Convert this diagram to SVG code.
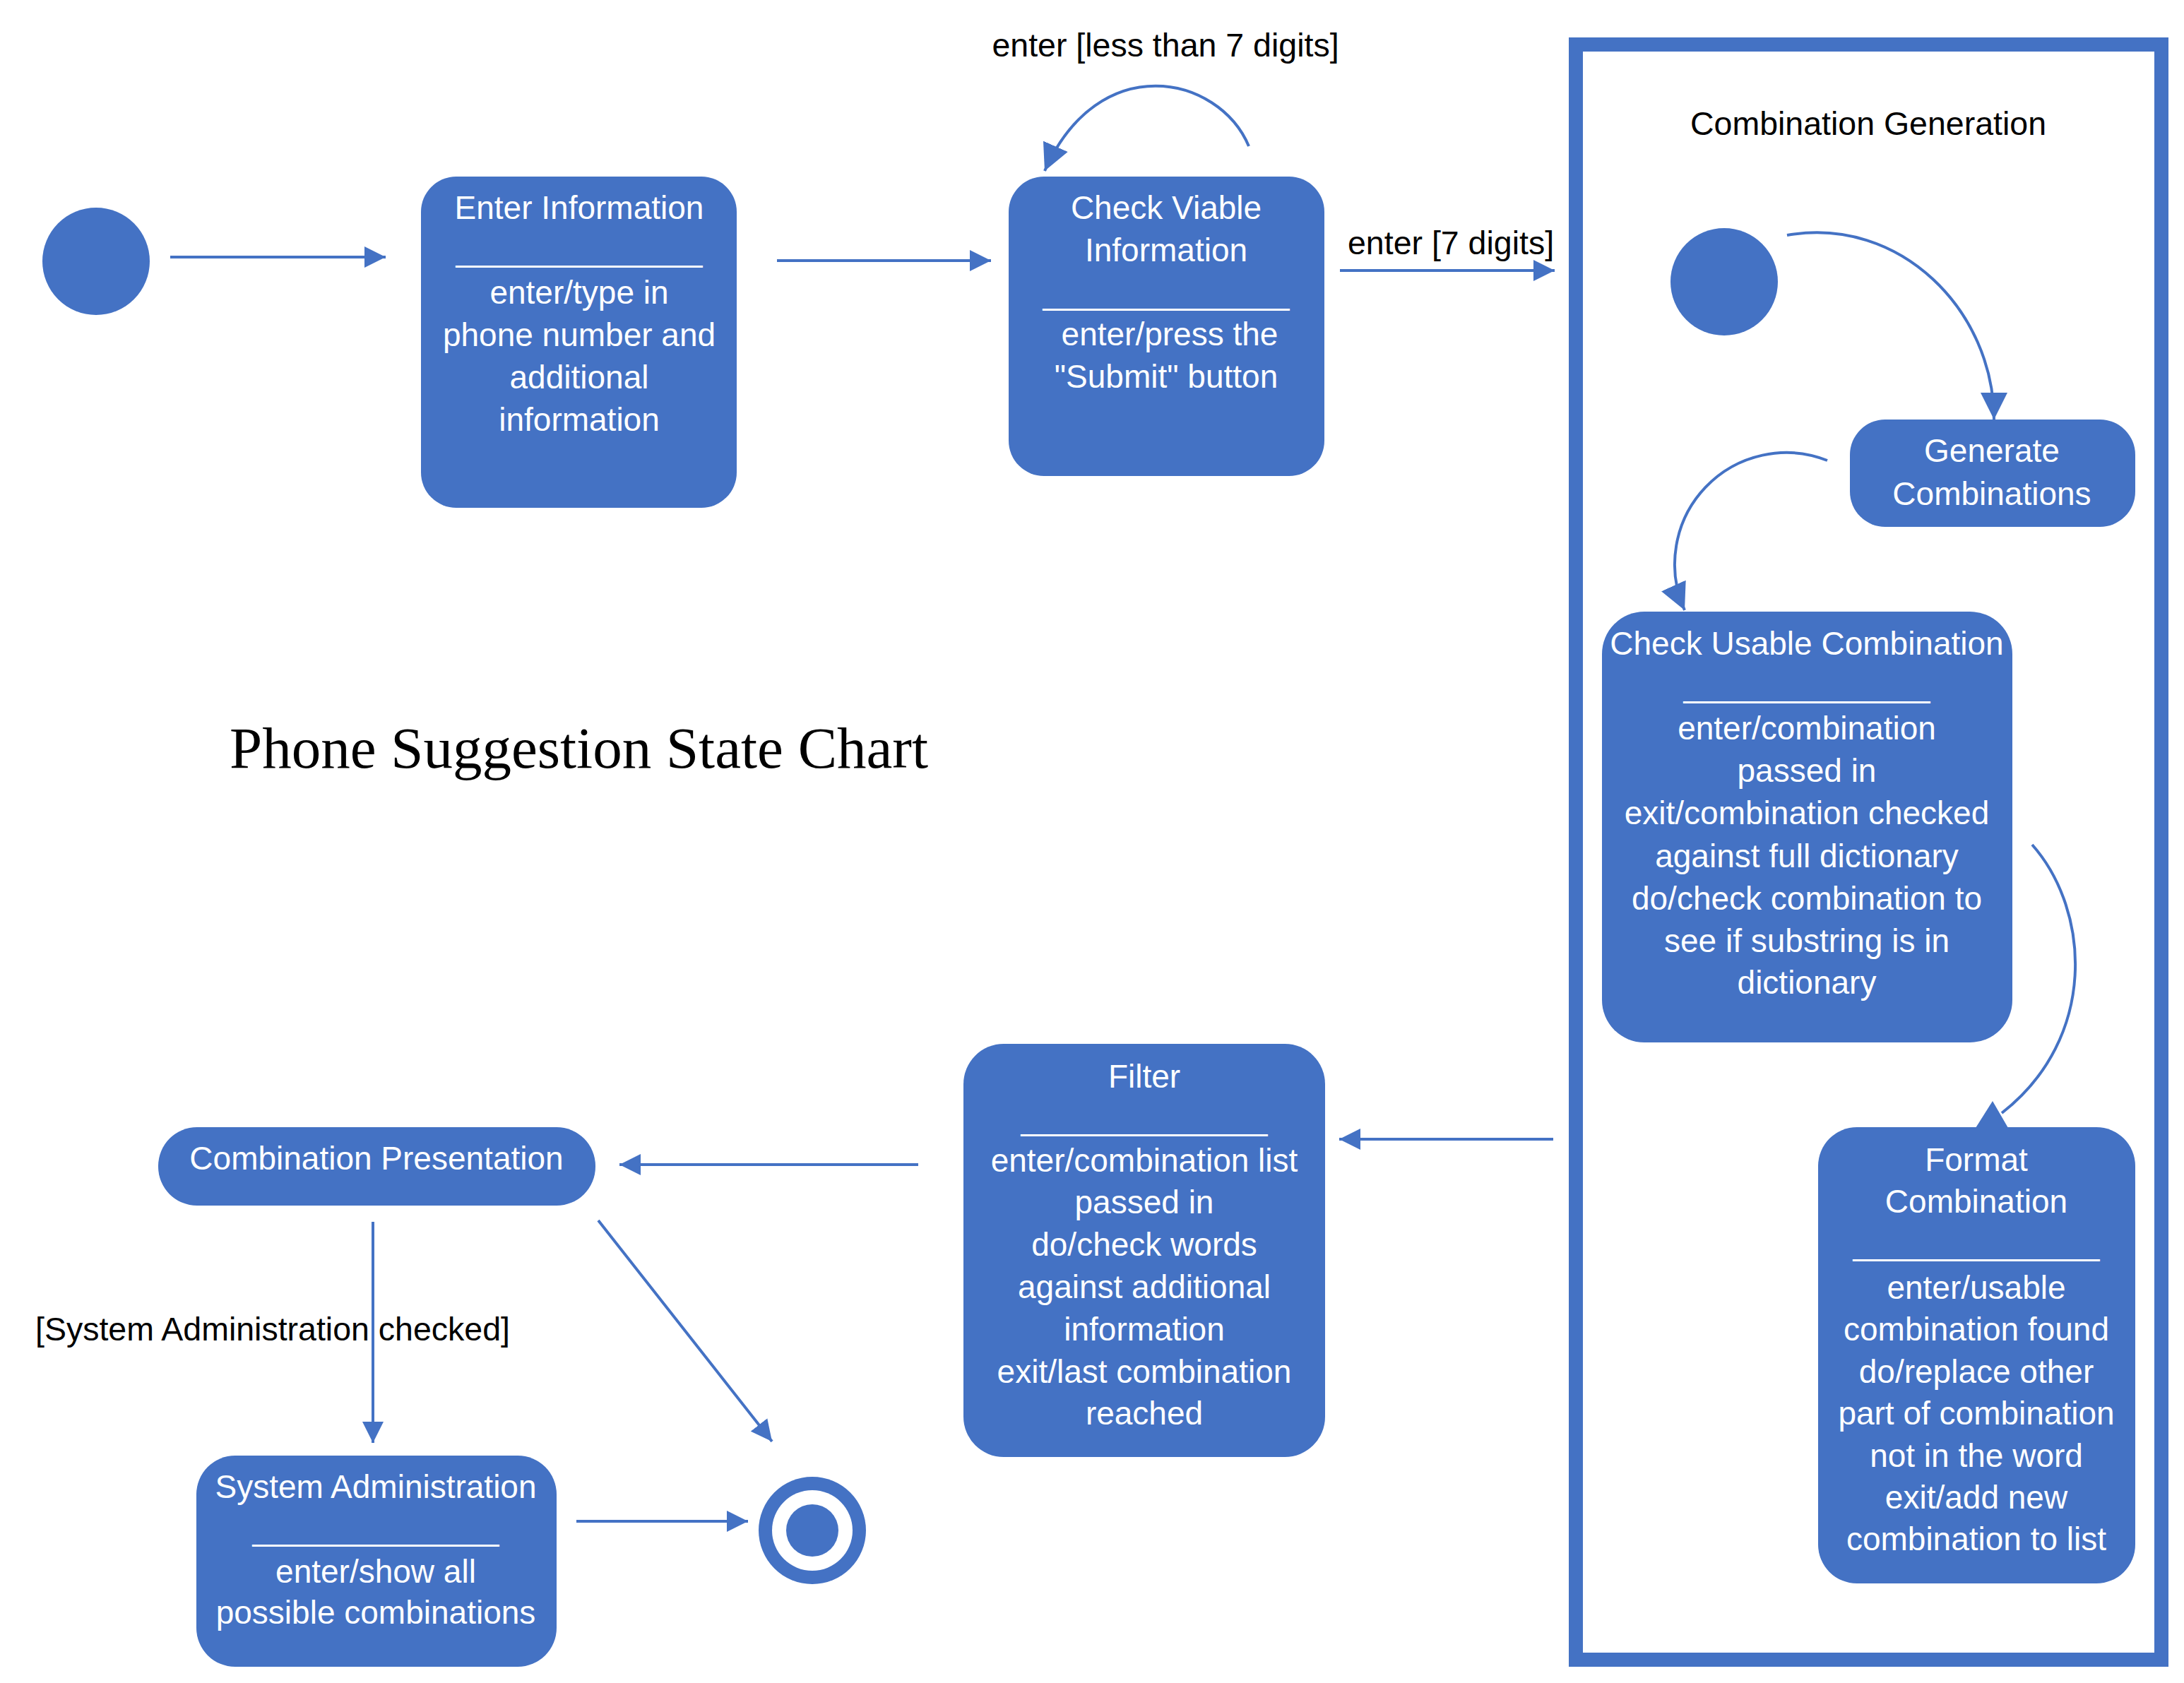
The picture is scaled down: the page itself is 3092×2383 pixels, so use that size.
<svg xmlns="http://www.w3.org/2000/svg" width="3092" height="2383" viewBox="0 0 3092 2383">
<style>
.node{fill:#4472C4}
.t{font-family:"Liberation Sans",Arial,sans-serif;font-size:46px;fill:#FFFFFF;text-anchor:middle}
.lbl{font-family:"Liberation Sans",Arial,sans-serif;font-size:46.5px;fill:#000000}
.c{fill:none;stroke:#4472C4;stroke-width:4}
.title{font-family:"Liberation Serif","Times New Roman",serif;font-size:83px;fill:#000000}
</style>
<defs>
<marker id="ah" viewBox="0 0 10 10" refX="10" refY="5" markerWidth="30" markerHeight="30" markerUnits="userSpaceOnUse" orient="auto"><path d="M0,0 L10,5 L0,10 z" fill="#4472C4"/></marker>
<marker id="ahL" viewBox="0 0 10 10" refX="10" refY="5" markerWidth="38" markerHeight="40" markerUnits="userSpaceOnUse" orient="auto"><path d="M0,0 L10,5 L0,10 z" fill="#4472C4"/></marker>
</defs>
<rect width="3092" height="2383" fill="#FFFFFF"/>

<text class="title" x="325" y="1087">Phone Suggestion State Chart</text>

<g id="frame-combination-generation">
<rect x="2231" y="63" width="829" height="2287" fill="none" stroke="#4472C4" stroke-width="20"/>
<text class="lbl" x="2645" y="191" text-anchor="middle">Combination Generation</text>
</g>

<g id="initial"><circle class="node" cx="136" cy="370" r="76"/></g>

<g id="enter-information">
<rect class="node" x="596" y="250" width="447" height="469" rx="50"/>
<text class="t" x="820" y="310">Enter Information</text>
<text class="t" x="820" y="370" textLength="349" lengthAdjust="spacingAndGlyphs">______________</text>
<text class="t" x="820" y="430">enter/type in</text>
<text class="t" x="820" y="490">phone number and</text>
<text class="t" x="820" y="550">additional</text>
<text class="t" x="820" y="610">information</text>
</g>

<g id="check-viable">
<rect class="node" x="1428" y="250" width="447" height="424" rx="50"/>
<text class="t" x="1651" y="310">Check Viable</text>
<text class="t" x="1651" y="370">Information</text>
<text class="t" x="1651" y="431" textLength="349" lengthAdjust="spacingAndGlyphs">______________</text>
<text class="t" x="1656" y="489">enter/press the</text>
<text class="t" x="1651" y="549">"Submit" button</text>
</g>

<g id="inner-initial"><circle class="node" cx="2441" cy="399" r="76"/></g>

<g id="generate-combinations">
<rect class="node" x="2619" y="594" width="404" height="152" rx="50"/>
<text class="t" x="2820" y="654">Generate</text>
<text class="t" x="2820" y="715">Combinations</text>
</g>

<g id="check-usable">
<rect class="node" x="2268" y="866" width="581" height="610" rx="60"/>
<text class="t" x="2558" y="927">Check Usable Combination</text>
<text class="t" x="2558" y="987" textLength="349" lengthAdjust="spacingAndGlyphs">______________</text>
<text class="t" x="2558" y="1047">enter/combination</text>
<text class="t" x="2558" y="1107">passed in</text>
<text class="t" x="2558" y="1167">exit/combination checked</text>
<text class="t" x="2558" y="1228">against full dictionary</text>
<text class="t" x="2558" y="1288">do/check combination to</text>
<text class="t" x="2558" y="1348">see if substring is in</text>
<text class="t" x="2558" y="1407">dictionary</text>
</g>

<g id="format-combination">
<rect class="node" x="2574" y="1596" width="449" height="646" rx="55"/>
<text class="t" x="2798" y="1658">Format</text>
<text class="t" x="2798" y="1717">Combination</text>
<text class="t" x="2798" y="1777" textLength="349" lengthAdjust="spacingAndGlyphs">______________</text>
<text class="t" x="2798" y="1839">enter/usable</text>
<text class="t" x="2798" y="1898">combination found</text>
<text class="t" x="2798" y="1958">do/replace other</text>
<text class="t" x="2798" y="2017">part of combination</text>
<text class="t" x="2798" y="2077">not in the word</text>
<text class="t" x="2798" y="2136">exit/add new</text>
<text class="t" x="2798" y="2195">combination to list</text>
</g>

<g id="filter">
<rect class="node" x="1364" y="1478" width="512" height="585" rx="57"/>
<text class="t" x="1620" y="1540">Filter</text>
<text class="t" x="1620" y="1600" textLength="349" lengthAdjust="spacingAndGlyphs">______________</text>
<text class="t" x="1620" y="1659">enter/combination list</text>
<text class="t" x="1620" y="1718">passed in</text>
<text class="t" x="1620" y="1778">do/check words</text>
<text class="t" x="1620" y="1838">against additional</text>
<text class="t" x="1620" y="1898">information</text>
<text class="t" x="1620" y="1958">exit/last combination</text>
<text class="t" x="1620" y="2017">reached</text>
</g>

<g id="combination-presentation">
<rect class="node" x="224" y="1596" width="619" height="111" rx="55"/>
<text class="t" x="533" y="1656">Combination Presentation</text>
</g>

<g id="system-administration">
<rect class="node" x="278" y="2061" width="510" height="299" rx="55"/>
<text class="t" x="532" y="2121">System Administration</text>
<text class="t" x="532" y="2181" textLength="349" lengthAdjust="spacingAndGlyphs">______________</text>
<text class="t" x="532" y="2241">enter/show all</text>
<text class="t" x="532" y="2299">possible combinations</text>
</g>

<g id="final">
<circle cx="1150" cy="2167" r="76" fill="#4472C4"/>
<circle cx="1150" cy="2167" r="57" fill="#FFFFFF"/>
<circle cx="1150" cy="2167" r="37" fill="#4472C4"/>
</g>

<g id="connectors">
<line class="c" x1="241" y1="364" x2="546" y2="364" marker-end="url(#ah)"/>
<line class="c" x1="1100" y1="369" x2="1403" y2="369" marker-end="url(#ah)"/>
<path class="c" d="M1768,207 C1725,105 1555,70 1479,242" marker-end="url(#ahL)"/>
<text class="lbl" x="1650" y="80" text-anchor="middle">enter [less than 7 digits]</text>
<line class="c" x1="1897" y1="383" x2="2201" y2="383" marker-end="url(#ah)"/>
<text class="lbl" x="1908" y="360">enter [7 digits]</text>
<path class="c" d="M2530,333 C2690,305 2823,440 2823,594" marker-end="url(#ahL)"/>
<path class="c" d="M2587,652 A158,158 0 0,0 2385,864" marker-end="url(#ahL)"/>
<path class="c" d="M2877,1196 C2960,1290 2970,1470 2834,1576"/>
<polygon points="2821,1559 2797,1597 2843,1597" fill="#4472C4"/>
<line class="c" x1="2199" y1="1613" x2="1896" y2="1613" marker-end="url(#ah)"/>
<line class="c" x1="1300" y1="1649" x2="877" y2="1649" marker-end="url(#ah)"/>
<line class="c" x1="528" y1="1730" x2="528" y2="2043" marker-end="url(#ah)"/>
<text class="lbl" x="50" y="1898">[System Administration checked]</text>
<line class="c" x1="847" y1="1728" x2="1093" y2="2041" marker-end="url(#ah)"/>
<line class="c" x1="816" y1="2154" x2="1059" y2="2154" marker-end="url(#ah)"/>
</g>
</svg>
